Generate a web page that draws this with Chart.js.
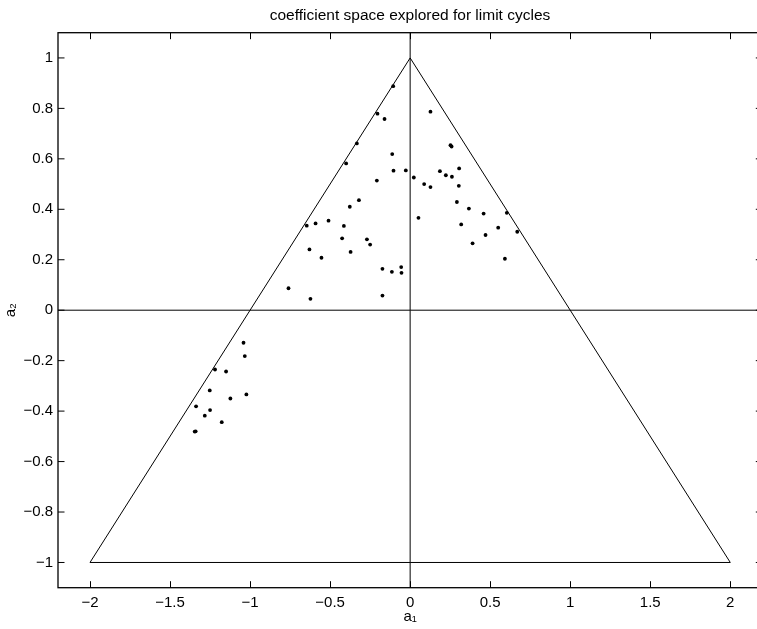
<!DOCTYPE html>
<html>
<head>
<meta charset="utf-8">
<script src="https://cdn.jsdelivr.net/npm/chart.js@4.4.1/dist/chart.umd.min.js"></script>
<style>
    html, body { margin: 0; padding: 0; background: #fff; overflow: hidden; }
    canvas { display: block; }
</style>
</head>
<body>
<canvas id="graph-container" width="820" height="629"></canvas>
<script>
// explored coefficient pairs (a1, a2)
const a1Values = [
    -0.204, -0.16, -0.333, -0.112, -0.4, -0.104, -0.027, 0.023, -0.208, -0.32,
    -0.377, -0.646, -0.591, -0.51, -0.414, -0.425, -0.27, -0.25, -0.629, -0.554,
    -0.372, 0.052, -0.173, -0.114, -0.056, -0.054, -0.76, -0.623, -0.173, -0.106,
    0.127, 0.252, 0.259, 0.186, 0.223, 0.261, 0.306, 0.0875, 0.127, 0.304,
    0.292, 0.367, 0.459, 0.604, 0.319, 0.55, 0.669, 0.471, 0.39, 0.592,
    -1.041, -1.033, -1.219, -1.15, -1.252, -1.123, -1.023, -1.3375, -1.25, -1.283,
    -1.177, -1.346, -1.34
];
const a2Values = [
    0.779, 0.758, 0.661, 0.619, 0.582, 0.553, 0.554, 0.526, 0.514, 0.436,
    0.41, 0.335, 0.344, 0.355, 0.334, 0.285, 0.281, 0.26, 0.241, 0.208,
    0.231, 0.366, 0.164, 0.152, 0.171, 0.148, 0.087, 0.045, 0.058, 0.888,
    0.787, 0.654, 0.649, 0.551, 0.535, 0.529, 0.562, 0.5, 0.488, 0.493,
    0.429, 0.403, 0.383, 0.386, 0.34, 0.327, 0.311, 0.298, 0.265, 0.204,
    -0.129, -0.182, -0.235, -0.243, -0.318, -0.35, -0.334, -0.381, -0.396, -0.418,
    -0.444, -0.481, -0.48
];

// stability triangle
const triangleA1 = [-2, 0, 2, -2];
const triangleA2 = [-1, 1, -1, -1];

// axis limits and ticks
const xLimits = [-2.2, 2.2];
const yLimits = [-1.1, 1.1];
const xTicks = [-2, -1.5, -1, -0.5, 0, 0.5, 1, 1.5, 2];
const yTicks = [-1, -0.8, -0.6, -0.4, -0.2, 0, 0.2, 0.4, 0.6, 0.8, 1];

function toPoints(xs, ys) {
    return xs.map((x, i) => ({x: x, y: ys[i]}));
}

function fmt(v) {
    return String(v).replace('-', '\u2212');
}

// MATLAB style box with inward ticks
const boxTicks = {
    id: 'boxTicks',
    afterDraw(chart) {
        const ctx = chart.ctx;
        const area = chart.chartArea;
        const xs = chart.scales.x;
        const ys = chart.scales.y;
        const len = 6.5;
        ctx.save();
        ctx.strokeStyle = '#000';
        ctx.lineWidth = 1;
        ctx.beginPath();
        xTicks.forEach(v => {
            const px = Math.round(xs.getPixelForValue(v)) + 0.5;
            ctx.moveTo(px, area.bottom); ctx.lineTo(px, area.bottom - len);
            ctx.moveTo(px, area.top); ctx.lineTo(px, area.top + len);
        });
        yTicks.forEach(v => {
            const py = ys.getPixelForValue(v);
            ctx.moveTo(area.left, py); ctx.lineTo(area.left + len, py);
            ctx.moveTo(area.right, py); ctx.lineTo(area.right - len, py);
        });
        ctx.stroke();
        ctx.lineWidth = 1.3;
        ctx.strokeRect(area.left, area.top, area.right - area.left, area.bottom - area.top);
        ctx.restore();
    }
};

const lineStyle = {
    borderColor: '#000',
    borderWidth: 1,
    pointRadius: 0,
    showLine: true,
    fill: false
};

const ctx = document.getElementById('graph-container').getContext('2d');
Chart.defaults.font.family = '"Liberation Sans", Arial, Helvetica, sans-serif';
Chart.defaults.color = '#000';

// canvas is wider than the window so the box's right edge falls just off screen;
// an empty right axis keeps the title centred over the box
new Chart(ctx, {
    type: 'scatter',
    data: {
        datasets: [
            Object.assign({data: toPoints(triangleA1, triangleA2)}, lineStyle),
            Object.assign({data: toPoints(xLimits, [0, 0])}, lineStyle),
            Object.assign({data: toPoints([0, 0], yLimits)}, lineStyle),
            {
                data: toPoints(a1Values, a2Values),
                backgroundColor: '#000',
                borderColor: '#000',
                pointRadius: 1.9,
                borderWidth: 0
            }
        ]
    },
    options: {
        responsive: false,
        animation: false,
        layout: {padding: 0},
        plugins: {
            legend: {display: false},
            tooltip: {enabled: false},
            title: {
                display: true,
                text: 'coefficient space explored for limit cycles',
                font: {size: 15.5, weight: 'normal'},
                padding: {top: 6, bottom: 8.1}
            }
        },
        scales: {
            x: {
                type: 'linear',
                min: xLimits[0],
                max: xLimits[1],
                afterBuildTicks: s => { s.ticks = xTicks.map(v => ({value: v})); },
                afterFit: s => { s.height = 41.3; },
                grid: {display: false, drawTicks: false},
                border: {display: false},
                ticks: {
                    font: {size: 15},
                    padding: 6,
                    maxRotation: 0,
                    autoSkip: false,
                    callback: v => fmt(v)
                },
                title: {
                    display: true,
                    text: 'a\u2081',
                    font: {size: 15},
                    padding: {top: 0, bottom: 3}
                }
            },
            y: {
                type: 'linear',
                min: yLimits[0],
                max: yLimits[1],
                afterBuildTicks: s => { s.ticks = yTicks.map(v => ({value: v})); },
                afterFit: s => { s.width = 58; },
                grid: {display: false, drawTicks: false},
                border: {display: false},
                ticks: {
                    font: {size: 15},
                    padding: 5,
                    autoSkip: false,
                    callback: v => fmt(v)
                },
                title: {
                    display: true,
                    text: 'a\u2082',
                    font: {size: 15},
                    padding: {top: 2, bottom: 0}
                }
            },
            yRight: {
                type: 'linear',
                position: 'right',
                min: yLimits[0],
                max: yLimits[1],
                afterFit: s => { s.width = 57.7; },
                grid: {display: false, drawTicks: false},
                border: {display: false},
                ticks: {display: false}
            }
        }
    },
    plugins: [boxTicks]
});
</script>
</body>
</html>
